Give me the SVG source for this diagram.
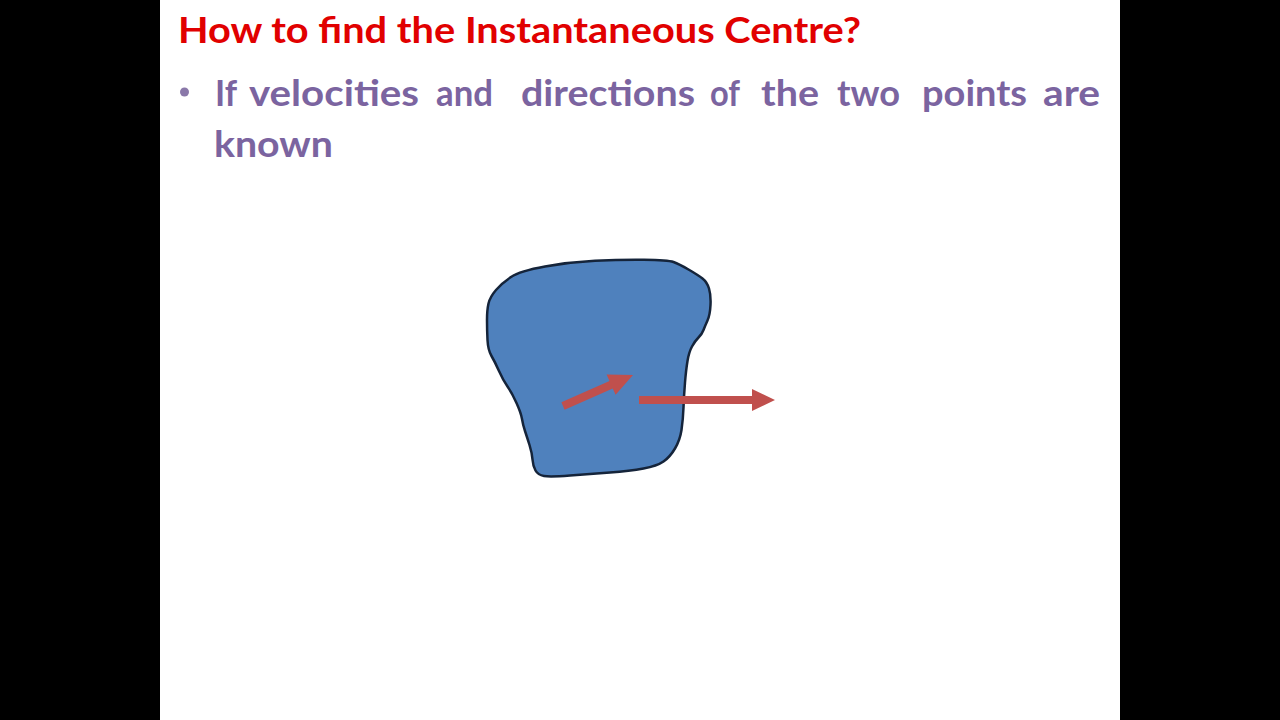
<svg xmlns="http://www.w3.org/2000/svg" width="1280" height="720" viewBox="0 0 1280 720">
  <defs>
    <style>
      .title { font-family: Lato, "Open Sans", "Liberation Sans", sans-serif; font-weight: 700; font-size: 36px; fill: #E10000; }
      .bullet { font-family: Lato, "Open Sans", "Liberation Sans", sans-serif; font-weight: 700; font-size: 37px; fill: #7B64A0; }
      .arrow { fill: #C0504D; }
    </style>
  </defs>
  <rect x="0" y="0" width="1280" height="720" fill="#000000"/>
  <rect x="160" y="0" width="960" height="720" fill="#FFFFFF"/>

  <g id="title">
    <text class="title" x="178" y="43" textLength="683" lengthAdjust="spacingAndGlyphs">How to find the Instantaneous Centre?</text>
  </g>

  <g id="bullet">
    <circle cx="184.5" cy="92" r="4.5" fill="#8A78A9"/>
    <text class="bullet" x="215" y="106" textLength="22" lengthAdjust="spacingAndGlyphs">If</text>
    <text class="bullet" x="249" y="106" textLength="170" lengthAdjust="spacingAndGlyphs">velocities</text>
    <text class="bullet" x="436" y="106" textLength="57" lengthAdjust="spacingAndGlyphs">and</text>
    <text class="bullet" x="521" y="106" textLength="174" lengthAdjust="spacingAndGlyphs">directions</text>
    <text class="bullet" x="710" y="106" textLength="30" lengthAdjust="spacingAndGlyphs">of</text>
    <text class="bullet" x="761" y="106" textLength="58" lengthAdjust="spacingAndGlyphs">the</text>
    <text class="bullet" x="837" y="106" textLength="63" lengthAdjust="spacingAndGlyphs">two</text>
    <text class="bullet" x="922" y="106" textLength="105" lengthAdjust="spacingAndGlyphs">points</text>
    <text class="bullet" x="1043" y="106" textLength="57" lengthAdjust="spacingAndGlyphs">are</text>
    <text class="bullet" x="214" y="157" textLength="119" lengthAdjust="spacingAndGlyphs">known</text>
  </g>

  <g id="body">
    <path d="M 496,290 Q 502,283 511,277 Q 520,271 545,266.5 Q 570,262 595,260.75 Q 620,259.5 644,259.75 Q 668,260 673.5,262 Q 679,264 688.5,269.5 Q 698,275 702.5,278.5 Q 707,282 709,288.5 Q 711,295 710.5,305 Q 710,315 707.5,320.5 Q 705,326 703.5,330 Q 702,334 698.5,337.5 Q 695,341 692,346.5 Q 689,352 687.5,361 Q 686,370 685,382.5 Q 684,395 683.5,407.5 Q 683,420 681.5,430 Q 680,440 675,448.5 Q 670,457 663.5,461.5 Q 657,466 643.5,468.5 Q 630,471 610,472.5 Q 590,474 570,475.5 Q 550,477 544,476 Q 538,475 535.5,470.5 Q 533,466 532.5,459.5 Q 532,453 529.5,445 Q 527,437 525,431 Q 523,425 522,419 Q 521,413 516.5,403 Q 512,393 507.5,386.5 Q 503,380 499,371 Q 495,362 491.5,356 Q 488,350 487.5,340 Q 487,330 487,320 Q 487,310 488.5,303.5 Q 490,297 496,290 Z" fill="#4F81BD" stroke="#15243A" stroke-width="2.5" stroke-linejoin="round"/>
  </g>

  <g id="connectors">
    <polygon class="arrow" points="561.4,402.3 609.5,381 606.6,374.6 633,375 615.6,394.8 612.7,388.4 564.6,409.7"/>
    <polygon class="arrow" points="639,396 752,396 752,389 775,400 752,411 752,404 639,404"/>
  </g>
</svg>
